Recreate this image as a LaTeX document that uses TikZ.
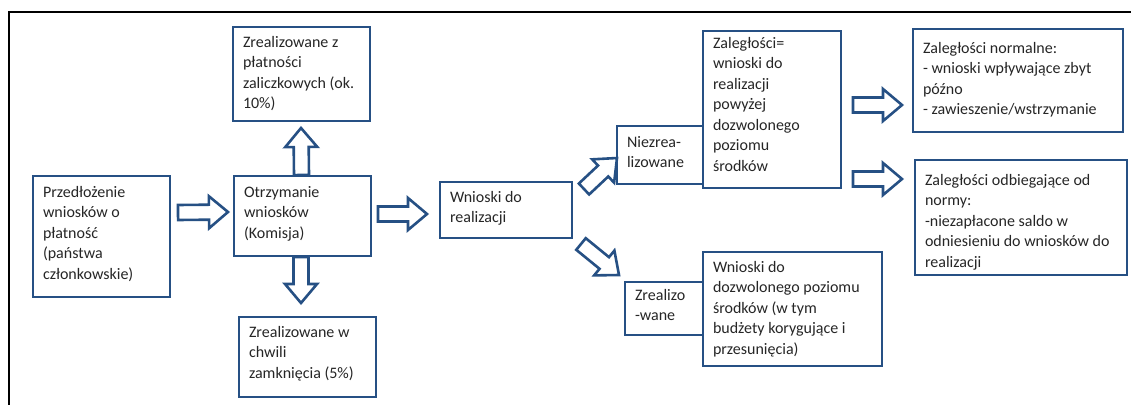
\documentclass[tikz,border=0pt]{standalone}
\usepackage{fontspec}
\setmainfont{Carlito}
\usetikzlibrary{calc}
\definecolor{boxblue}{RGB}{38,80,132}
\tikzset{
  box/.style={draw=boxblue, line width=2.6pt, fill=white, anchor=north west, inner sep=0pt, outer sep=0pt},
  txt/.style={anchor=base west, inner sep=0pt, outer sep=0pt, font=\fontsize{16}{20.5}\selectfont, text=black!85},
  blockarrow/.style={draw=boxblue, line width=2.6pt, fill=white, line join=miter},
  frame/.style={draw=black, line width=2.2pt}
}
% \mybox{name}{x}{y}{w}{h}{baseline offset}{text}
\newcommand\mybox[7]{%
  \node[box, minimum width=#4pt, minimum height=#5pt] (#1) at (#2,#3) {};
  \node[txt] (#1-t) at ($(#1.north west)+(10,#6)$) {\parbox[t]{230pt}{#7}};
}
% \barr{tail}{tip}
\newcommand\barr[2]{%
  \coordinate (bb) at ($(#2)!19pt!(#1)$);
  \draw[blockarrow] ($(#1)!7.5pt!90:(#2)$) -- ($(bb)!7.5pt!90:(#2)$) -- ($(bb)!16pt!90:(#2)$) -- (#2)
     -- ($(bb)!16pt!-90:(#2)$) -- ($(bb)!7.5pt!-90:(#2)$) -- ($(#1)!7.5pt!-90:(#2)$) -- cycle;
}
\begin{document}
\begin{tikzpicture}[x=1pt,y=-1pt]
\useasboundingbox[fill=white] (0,0) rectangle (1131,405);
\draw[frame] (1131,12) -- (9,12) -- (9,405);

\mybox{A}{33}{176}{137}{121}{21}{Przedłożenie\\wniosków o\\płatność\\(państwa\\członkowskie)}
\mybox{B}{234}{176}{137}{80}{21}{Otrzymanie\\wniosków\\(Komisja)}
\mybox{T}{233}{27}{137}{94}{20}{Zrealizowane z\\płatności\\zaliczkowych (ok.\\10\%)}
\mybox{D}{239}{317}{137}{80}{20}{Zrealizowane w\\chwili\\zamknięcia (5\%)}
\mybox{C}{440}{182}{132}{56}{20}{Wnioski do\\realizacji}
\mybox{N}{617}{126}{86}{58}{21}{Niezrea-\\lizowane}
\mybox{Z}{703}{31}{138}{157}{17}{Zaległości=\\wnioski do\\realizacji\\powyżej\\dozwolonego\\poziomu\\środków}
\mybox{R}{625}{282}{78}{53}{18}{Zrealizo\\-wane}
\mybox{W}{703}{252}{179}{114}{20}{Wnioski do\\dozwolonego poziomu\\środków (w tym\\budżety korygujące i\\przesunięcia)}
\mybox{M}{913}{29}{210}{103}{24}{Zaległości normalne:\\- wnioski wpływające zbyt\\późno\\- zawieszenie/wstrzymanie}
\mybox{O}{915}{160}{212}{115}{25}{Zaległości odbiegające od\\normy:\\-niezapłacone saldo w\\odniesieniu do wniosków do\\realizacji}

% arrow end points, placed against the named boxes
\coordinate (ab-t) at ($(A.east)+(8,-24)$);
\coordinate (ab-h) at ($(B.west)+(-6,-4)$);
\coordinate (bt-t) at ($(B.north)+(-1,-1)$);
\coordinate (bt-h) at ($(T.south)+(-0.5,7)$);
\coordinate (bd-t) at ($(B.south)+(-1.5,1)$);
\coordinate (bd-h) at ($(D.north)+(-6.5,-14)$);
\coordinate (bc-t) at ($(B.east)+(7,-2)$);
\coordinate (bc-h) at ($(C.west)+(-13,4)$);
\coordinate (cn-t) at ($(C.east)+(12,-21)$);
\coordinate (cn-h) at ($(N.west)+(0,3)$);
\coordinate (cr-t) at ($(C.east)+(9,34)$);
\coordinate (cr-h) at ($(R.north west)+(-6,-7)$);
\coordinate (zm-t) at ($(Z.north east)+(12,74)$);
\coordinate (zm-h) at ($(M.west)+(-11,24.5)$);
\coordinate (zo-t) at ($(Z.north east)+(12,148)$);
\coordinate (zo-h) at ($(O.west)+(-13,-38.5)$);

\barr{ab-t}{ab-h}
\barr{bt-t}{bt-h}
\barr{bd-t}{bd-h}
\barr{bc-t}{bc-h}
\barr{cn-t}{cn-h}
\barr{cr-t}{cr-h}
\barr{zm-t}{zm-h}
\barr{zo-t}{zo-h}
\end{tikzpicture}
\end{document}
